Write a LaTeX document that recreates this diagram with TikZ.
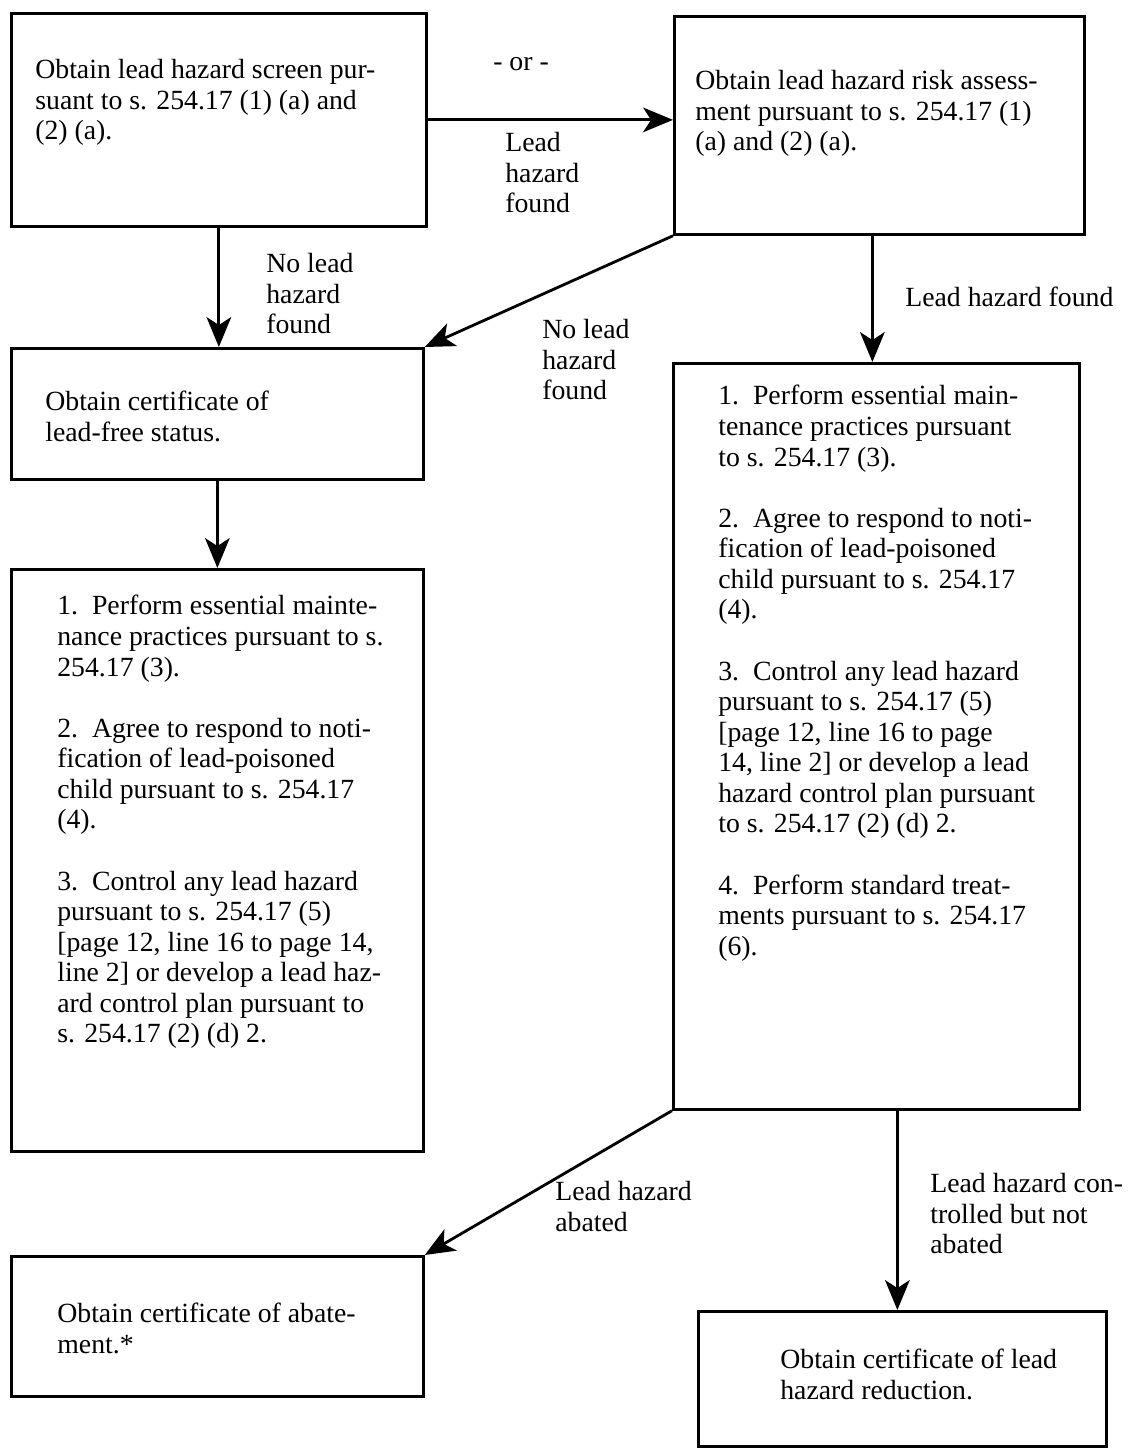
\documentclass[tikz,border=0pt]{standalone}
\usepackage{fontspec}
\setmainfont{Liberation Serif}
\usetikzlibrary{arrows.meta, positioning}

\tikzset{
    box/.style={draw, line width=1.6pt, anchor=north west, inner sep=0pt},
    boxtext/.style={anchor=north west, inner sep=0pt, align=left,
        font=\fontsize{15.8pt}{17.4pt}\selectfont},
    flow/.style={line width=1.6pt, -{Stealth[length=17pt, width=14pt, inset=4.5pt]}},
}

\begin{document}
\begin{tikzpicture}[x=0.02cm, y=-0.02cm]

\useasboundingbox (0,0) rectangle (1131,1448);

% boxes
\node [box,
    minimum width=8.3cm,
    minimum height=4.26cm
] (screen_box) at (10,12) {};

\node [box,
    minimum width=8.2cm,
    minimum height=4.36cm
] (risk_box) at (673,15) {};

\node [box,
    minimum width=8.24cm,
    minimum height=2.62cm
] (free_box) at (10,347) {};

\node [box,
    minimum width=8.24cm,
    minimum height=11.64cm
] (steps_left) at (10,568) {};

\node [box,
    minimum width=8.12cm,
    minimum height=14.92cm
] (steps_right) at (672,362) {};

\node [box,
    minimum width=8.24cm,
    minimum height=2.8cm
] (abate_box) at (10,1255) {};

\node [box,
    minimum width=8.16cm,
    minimum height=2.7cm
] (reduce_box) at (697,1310) {};

% box texts
\node [boxtext] (screen_text) at (35,59)
    {Obtain lead hazard screen pur-\\suant to s. 254.17 (1) (a) and\\(2) (a).};

\node [boxtext] (risk_text) at (695,70)
    {Obtain lead hazard risk assess-\\ment pursuant to s. 254.17 (1)\\(a) and (2) (a).};

\node [boxtext] (free_text) at (45,391)
    {Obtain certificate of\\lead-free status.};

\node [boxtext] (steps_left_text) at (57,595)
    {1.\ \ Perform essential mainte-\\nance practices pursuant to s.\\254.17 (3).\\[17.4pt]
     2.\ \ Agree to respond to noti-\\fication of lead-poisoned\\child pursuant to s. 254.17\\(4).\\[17.4pt]
     3.\ \ Control any lead hazard\\pursuant to s. 254.17 (5)\\{[page 12, line 16 to page 14,}\\line 2] or develop a lead haz-\\ard control plan pursuant to\\s. 254.17 (2) (d) 2.};

\node [boxtext] (steps_right_text) at (718,385)
    {1.\ \ Perform essential main-\\tenance practices pursuant\\to s. 254.17 (3).\\[17.4pt]
     2.\ \ Agree to respond to noti-\\fication of lead-poisoned\\child pursuant to s. 254.17\\(4).\\[17.4pt]
     3.\ \ Control any lead hazard\\pursuant to s. 254.17 (5)\\{[page 12, line 16 to page}\\14, line 2] or develop a lead\\hazard control plan pursuant\\to s. 254.17 (2) (d) 2.\\[17.4pt]
     4.\ \ Perform standard treat-\\ments pursuant to s. 254.17\\(6).};

\node [boxtext] (abate_text) at (57,1303)
    {Obtain certificate of abate-\\ment.*};

\node [boxtext] (reduce_text) at (780,1349)
    {Obtain certificate of lead\\hazard reduction.};

% connectors
\draw [flow] (screen_box.east) -- (screen_box.east -| risk_box.west);
\draw [flow] (screen_box.south) -- (screen_box.south |- free_box.north);
\draw [flow] (risk_box.south west) -- (free_box.north east);
\draw [flow] ([xshift=-0.14cm]risk_box.south) -- ([xshift=-0.14cm]risk_box.south |- steps_right.north);
\draw [flow] (free_box.south) -- (free_box.south |- steps_left.north);
\draw [flow] (steps_right.south west) -- (abate_box.north east);
\draw [flow] ([xshift=-0.1cm]reduce_box.north |- steps_right.south) -- ([xshift=-0.1cm]reduce_box.north);

% connector labels
\node [boxtext, anchor=north] (lbl_or) at (521,57) {- or -};
\node [boxtext] (lbl_found_top) at (505,132) {Lead\\hazard\\found};
\node [boxtext] (lbl_none_left) at (266,253) {No lead\\hazard\\found};
\node [boxtext] (lbl_none_mid) at (542,319) {No lead\\hazard\\found};
\node [boxtext] (lbl_found_right) at (905,287) {Lead hazard found};
\node [boxtext] (lbl_abated) at (555,1181) {Lead hazard\\abated};
\node [boxtext] (lbl_controlled) at (930,1173) {Lead hazard con-\\trolled but not\\abated};

\end{tikzpicture}
\end{document}
